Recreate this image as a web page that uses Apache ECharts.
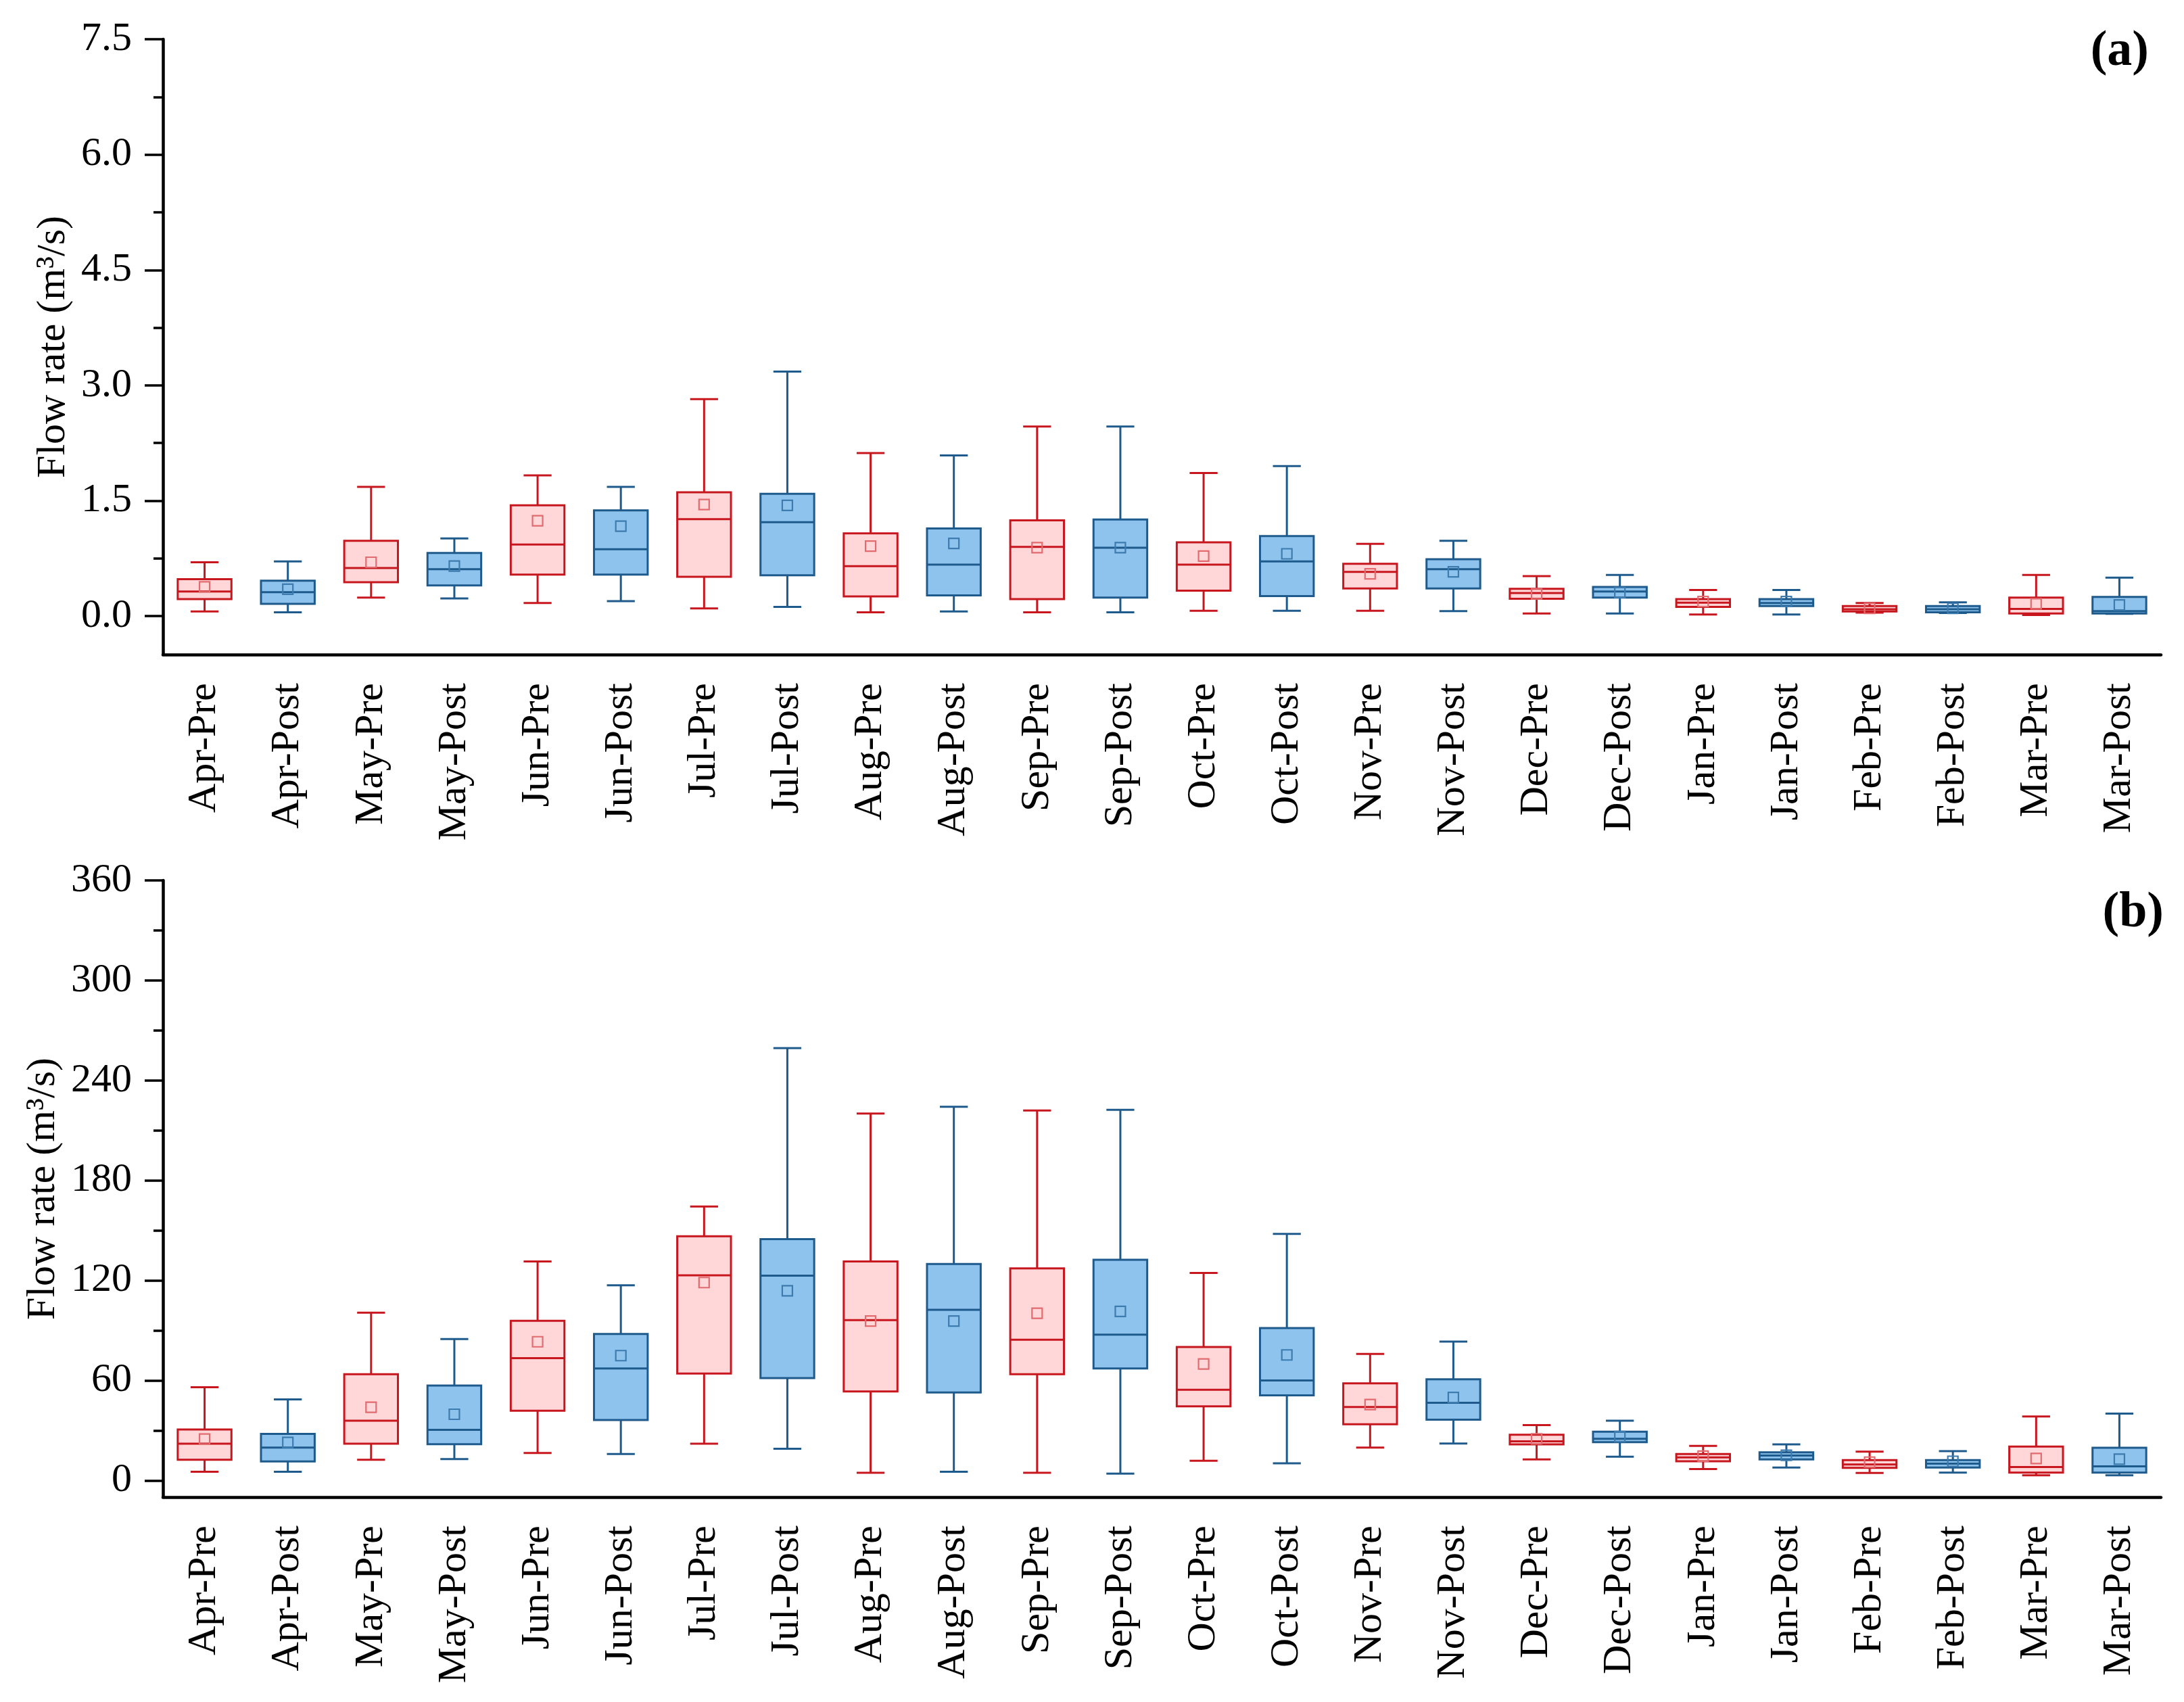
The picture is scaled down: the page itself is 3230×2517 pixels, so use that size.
<!DOCTYPE html>
<html>
<head>
<meta charset="utf-8">
<script src="https://cdn.jsdelivr.net/npm/echarts@6/dist/echarts.min.js"></script>
<style>
html,body{margin:0;padding:0;background:#fff;}
#chart{width:3230px;height:2517px;}
</style>
</head>
<body>
<div id="chart"></div>
<script>
const categories = ['Apr-Pre','Apr-Post','May-Pre','May-Post','Jun-Pre','Jun-Post','Jul-Pre','Jul-Post',
  'Aug-Pre','Aug-Post','Sep-Pre','Sep-Post','Oct-Pre','Oct-Post','Nov-Pre','Nov-Post',
  'Dec-Pre','Dec-Post','Jan-Pre','Jan-Post','Feb-Pre','Feb-Post','Mar-Pre','Mar-Post'];

// Panel (a)
const aMin  = [0.06,0.05,0.24,0.23,0.17,0.195,0.10,0.12,0.05,0.06,0.05,0.05,0.07,0.07,0.07,0.065,0.035,0.035,0.02,0.02,0.045,0.04,0.015,0.03];
const aQ1   = [0.22,0.16,0.44,0.40,0.54,0.54,0.51,0.53,0.256,0.27,0.22,0.24,0.33,0.26,0.36,0.36,0.225,0.24,0.12,0.13,0.06,0.05,0.035,0.035];
const aMed  = [0.32,0.31,0.625,0.61,0.93,0.87,1.26,1.22,0.65,0.67,0.90,0.89,0.67,0.71,0.575,0.61,0.30,0.32,0.175,0.17,0.09,0.09,0.093,0.064];
const aQ3   = [0.48,0.46,0.98,0.82,1.44,1.375,1.61,1.59,1.075,1.14,1.245,1.256,0.96,1.04,0.68,0.74,0.355,0.38,0.22,0.22,0.13,0.13,0.24,0.25];
const aMax  = [0.70,0.71,1.68,1.01,1.83,1.68,2.82,3.18,2.12,2.09,2.465,2.465,1.86,1.95,0.94,0.98,0.52,0.535,0.34,0.34,0.17,0.18,0.535,0.50];
const aMean = [0.38,0.35,0.70,0.65,1.24,1.17,1.45,1.44,0.91,0.945,0.89,0.89,0.78,0.81,0.55,0.575,0.29,0.305,0.19,0.19,0.10,0.10,0.16,0.145];

// Panel (b)
const bMin  = [5.2,5.2,12.4,12.8,16.5,15.9,22.1,19.0,4.6,5.2,4.6,4.1,11.8,10.3,19.7,22.2,12.6,14.2,6.8,7.7,4.5,4.7,3.1,3.1];
const bQ1   = [12.4,11.4,22.1,21.7,41.8,36.2,64.1,61.4,53.4,52.8,63.7,67.2,44.5,51.1,33.7,36.5,21.6,23.0,11.5,12.6,7.5,7.7,4.7,4.7];
const bMed  = [22.1,19.7,35.8,30.4,73.4,67.2,123.1,122.9,96.2,102.4,84.4,87.5,54.4,60.0,44.1,46.6,23.5,25.0,13.8,14.9,9.6,10.1,8.1,8.5];
const bQ3   = [30.6,27.9,63.7,56.9,95.8,87.9,146.5,144.8,131.4,129.9,127.2,132.4,80.1,91.4,58.3,60.7,27.4,29.3,15.9,16.9,12.2,12.2,20.3,19.6];
const bMax  = [55.9,48.6,100.7,84.8,131.4,117.1,164.3,259.4,220.1,224.2,222.0,222.4,124.5,147.9,75.9,83.3,33.2,35.8,20.7,21.6,17.3,17.6,38.4,40.1];
const bMean = [24.8,22.8,43.9,39.7,83.2,74.9,118.7,113.8,95.6,95.6,100.3,101.4,69.9,75.3,45.5,49.8,25.0,26.4,14.6,15.1,11.0,11.5,13.2,12.8];

const aMajor = [0, 1.5, 3.0, 4.5, 6.0, 7.5];
const aMinor = [0.75, 2.25, 3.75, 5.25, 6.75];
const bMajor = [0, 60, 120, 180, 240, 300, 360];
const bMinor = [30, 90, 150, 210, 270, 330];

const FONT = 'Liberation Serif';
const STYLE = {
  pre:  {stroke: '#C8161F', fill: '#FFD7D8', mean: '#E16B6E'},
  post: {stroke: '#1E5B8C', fill: '#8DC3EC', mean: '#3E7BAE'}
};

function buildData(mn, q1, md, q3, mx, mean, parity) {
  const out = [];
  for (let i = 0; i < categories.length; i++) {
    if (i % 2 === parity) out.push([i, mn[i], q1[i], md[i], q3[i], mx[i], mean[i]]);
  }
  return out;
}

function makeRender(st) {
  return function (params, api) {
    const x = api.value(0);
    const band = api.size([1, 0])[0];
    const bw = band * 0.645;
    const cw = bw * 0.52;
    const pMin = api.coord([x, api.value(1)]);
    const pQ1 = api.coord([x, api.value(2)]);
    const pMed = api.coord([x, api.value(3)]);
    const pQ3 = api.coord([x, api.value(4)]);
    const pMax = api.coord([x, api.value(5)]);
    const pMean = api.coord([x, api.value(6)]);
    const cx = pMed[0];
    const lw = 3;
    const ls = {stroke: st.stroke, lineWidth: lw, fill: null};
    const ms = 15;
    return {
      type: 'group',
      children: [
        {type: 'line', shape: {x1: cx, y1: pMax[1], x2: cx, y2: pQ3[1]}, style: ls},
        {type: 'line', shape: {x1: cx, y1: pQ1[1], x2: cx, y2: pMin[1]}, style: ls},
        {type: 'line', shape: {x1: cx - cw / 2, y1: pMax[1], x2: cx + cw / 2, y2: pMax[1]}, style: ls},
        {type: 'line', shape: {x1: cx - cw / 2, y1: pMin[1], x2: cx + cw / 2, y2: pMin[1]}, style: ls},
        {type: 'rect', shape: {x: cx - bw / 2, y: pQ3[1], width: bw, height: pQ1[1] - pQ3[1]},
          style: {fill: st.fill, stroke: st.stroke, lineWidth: lw}},
        {type: 'line', shape: {x1: cx - bw / 2, y1: pMed[1], x2: cx + bw / 2, y2: pMed[1]}, style: ls},
        {type: 'rect', shape: {x: cx - ms / 2, y: pMean[1] - ms / 2, width: ms, height: ms},
          style: {fill: null, stroke: st.mean, lineWidth: 2.2}}
      ]
    };
  };
}

function xAxisCfg(gi) {
  return {
    type: 'category', gridIndex: gi, data: categories,
    boundaryGap: true,
    axisLine: {onZero: false, lineStyle: {color: '#000', width: 4.5}},
    axisTick: {alignWithLabel: true, length: 27, lineStyle: {color: '#000', width: 3.5}},
    axisLabel: {rotate: 90, margin: 42, fontSize: 60, fontFamily: FONT, color: '#000', interval: 0},
    splitLine: {show: false}
  };
}

function yAxesCfg(gi, mn, mx, major, minor, fmt) {
  return [
    {
      type: 'value', gridIndex: gi, min: mn, max: mx, position: 'left',
      name: 'Flow rate (m³/s)', nameLocation: 'middle', nameRotate: 90, nameGap: 130,
      nameTextStyle: {fontSize: 60, fontFamily: FONT, color: '#000'},
      axisLine: {show: true, lineStyle: {color: '#000', width: 4.5}},
      axisTick: {show: true, length: 27, customValues: major, lineStyle: {color: '#000', width: 3.5}},
      axisLabel: {show: true, margin: 46, customValues: major, fontSize: 60, fontFamily: FONT, color: '#000', formatter: fmt},
      splitLine: {show: false}
    },
    {
      type: 'value', gridIndex: gi, min: mn, max: mx, position: 'left', offset: 0,
      axisLine: {show: false},
      axisTick: {show: true, length: 14, customValues: minor, lineStyle: {color: '#000', width: 3.5}},
      axisLabel: {show: false},
      splitLine: {show: false}
    }
  ];
}

const chart = echarts.init(document.getElementById('chart'), null, {renderer: 'canvas'});
const option = {
  backgroundColor: '#fff',
  animation: false,
  title: [
    {text: '(a)', right: 52, top: 40, padding: 0, textStyle: {fontSize: 74, fontWeight: 'bold', fontFamily: FONT, color: '#000'}},
    {text: '(b)', right: 30, top: 1314, padding: 0, textStyle: {fontSize: 74, fontWeight: 'bold', fontFamily: FONT, color: '#000'}}
  ],
  grid: [
    {left: 241, right: 34, top: 58, height: 910},
    {left: 241, right: 34, top: 1302, height: 912}
  ],
  xAxis: [xAxisCfg(0), xAxisCfg(1)],
  yAxis: [].concat(
    yAxesCfg(0, -0.5, 7.5, aMajor, aMinor, v => v.toFixed(1)),
    yAxesCfg(1, -10, 360, bMajor, bMinor, v => String(Math.round(v)))
  ),
  series: [
    {type: 'custom', name: 'Pre', xAxisIndex: 0, yAxisIndex: 0, renderItem: makeRender(STYLE.pre),
      encode: {x: 0, y: [1, 2, 3, 4, 5, 6]}, data: buildData(aMin, aQ1, aMed, aQ3, aMax, aMean, 0)},
    {type: 'custom', name: 'Post', xAxisIndex: 0, yAxisIndex: 0, renderItem: makeRender(STYLE.post),
      encode: {x: 0, y: [1, 2, 3, 4, 5, 6]}, data: buildData(aMin, aQ1, aMed, aQ3, aMax, aMean, 1)},
    {type: 'custom', name: 'Pre', xAxisIndex: 1, yAxisIndex: 2, renderItem: makeRender(STYLE.pre),
      encode: {x: 0, y: [1, 2, 3, 4, 5, 6]}, data: buildData(bMin, bQ1, bMed, bQ3, bMax, bMean, 0)},
    {type: 'custom', name: 'Post', xAxisIndex: 1, yAxisIndex: 2, renderItem: makeRender(STYLE.post),
      encode: {x: 0, y: [1, 2, 3, 4, 5, 6]}, data: buildData(bMin, bQ1, bMed, bQ3, bMax, bMean, 1)}
  ]
};
chart.setOption(option);
</script>
</body>
</html>
